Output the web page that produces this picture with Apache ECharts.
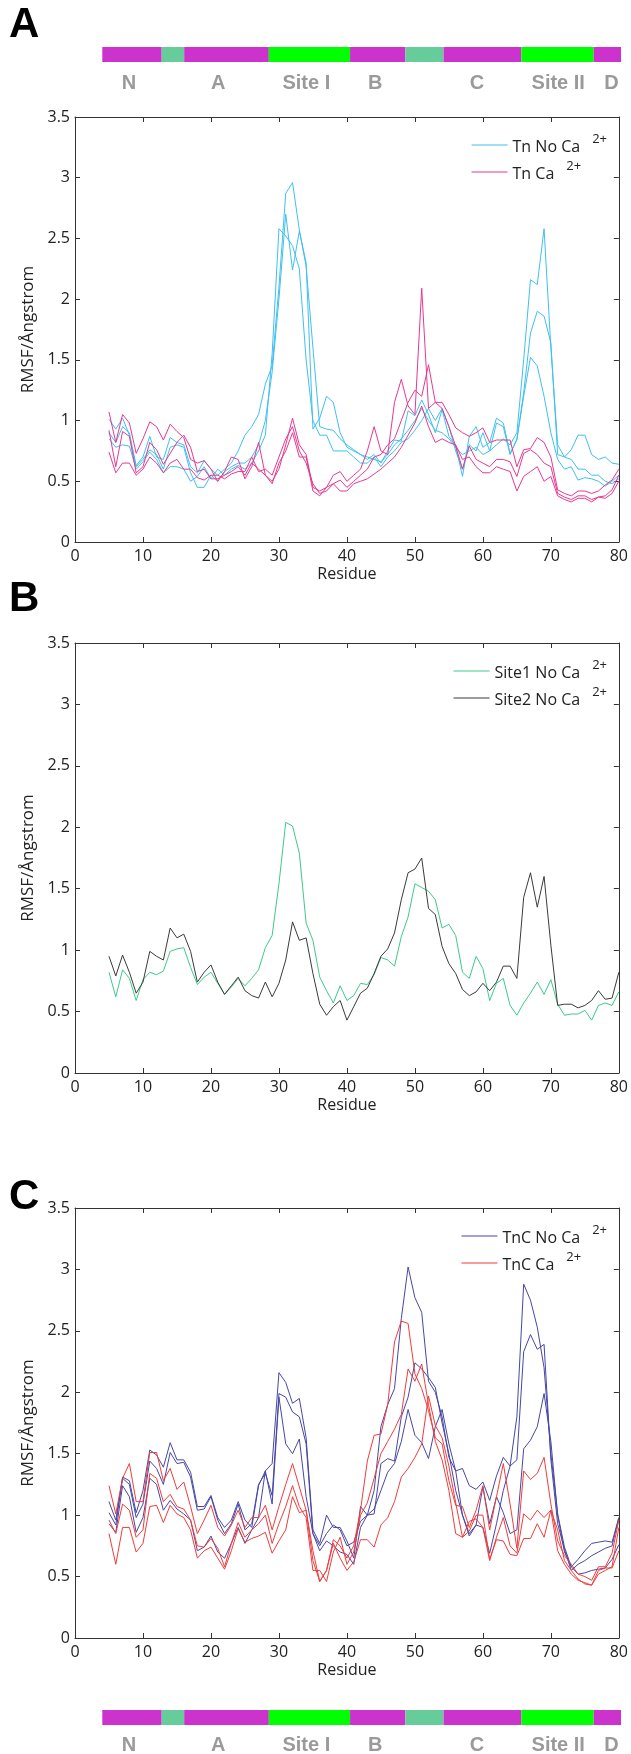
<!DOCTYPE html>
<html><head><meta charset="utf-8">
<script src="https://cdn.jsdelivr.net/npm/echarts@6/dist/echarts.min.js"></script>
<style>html,body{margin:0;padding:0;background:#fff}#c{width:631px;height:1754px}</style>
</head><body><div id="c"></div>
<script>
// ---------- DATA ----------
const residues = [5,6,7,8,9,10,11,12,13,14,15,16,17,18,19,20,21,22,23,24,25,26,27,28,29,30,31,32,33,34,35,36,37,38,39,40,41,42,43,44,45,46,47,48,49,50,51,52,53,54,55,56,57,58,59,60,61,62,63,64,65,66,67,68,69,70,71,72,73,74,75,76,77,78,79,80];

// Panel A: Tn No Ca2+ (3 runs)
const tnNoCa1 = [1.01,0.93,1.02,0.88,0.63,0.70,0.87,0.70,0.68,0.86,
 0.82,0.80,0.62,0.57,0.67,0.60,0.55,0.60,0.65,0.75,
 0.88,0.95,1.05,1.30,1.45,2.10,2.87,2.96,2.57,2.27,
 1.60,0.95,0.93,0.92,0.85,0.80,0.76,0.72,0.70,0.68,
 0.66,0.72,0.80,0.85,0.92,1.00,1.10,1.00,0.92,0.90,
 0.85,0.78,0.72,0.75,0.78,0.72,0.75,0.80,0.85,0.80,
 0.90,1.50,2.16,2.12,2.58,1.60,0.80,0.70,0.68,0.60,
 0.60,0.55,0.55,0.50,0.48,0.52];
const tnNoCa2 = [0.90,0.82,0.95,0.90,0.62,0.68,0.76,0.72,0.60,0.78,
 0.80,0.78,0.57,0.45,0.45,0.55,0.50,0.58,0.62,0.65,
 0.65,0.70,0.80,1.00,1.40,2.00,2.70,2.24,2.56,2.30,
 0.93,1.02,1.20,1.15,0.90,0.78,0.75,0.72,0.68,0.72,
 0.65,0.75,0.84,0.83,1.08,1.04,1.17,1.05,0.90,1.09,
 0.87,0.79,0.54,0.87,0.95,0.78,0.82,1.02,0.98,0.73,
 0.84,1.23,1.72,1.90,1.86,1.64,0.72,0.70,0.76,0.88,
 0.88,0.72,0.68,0.70,0.65,0.64];
const tnNoCa3 = [0.85,0.78,0.80,0.79,0.60,0.66,0.74,0.68,0.57,0.62,
 0.62,0.60,0.50,0.54,0.62,0.52,0.60,0.55,0.60,0.63,
 0.60,0.65,0.75,0.88,1.55,2.58,2.52,2.44,2.25,1.50,
 1.00,0.88,0.88,0.75,0.75,0.75,0.70,0.65,0.65,0.70,
 0.62,0.70,0.75,0.82,0.85,0.92,1.00,1.10,1.00,1.10,
 0.95,0.75,0.60,0.80,0.75,0.90,0.75,0.98,0.95,0.72,
 0.85,1.20,1.52,1.45,1.20,0.90,0.68,0.60,0.62,0.51,
 0.53,0.52,0.50,0.46,0.50,0.55];
// Panel A: Tn Ca2+ (3 runs)
const tnCa1 = [1.07,0.82,1.05,0.98,0.73,0.85,0.99,0.95,0.84,0.97,
 0.91,0.86,0.68,0.65,0.67,0.60,0.50,0.58,0.70,0.68,
 0.52,0.62,0.82,0.55,0.50,0.60,0.80,1.02,0.80,0.72,
 0.45,0.42,0.45,0.55,0.58,0.50,0.55,0.60,0.75,0.95,
 0.75,0.72,1.15,1.34,1.12,1.05,2.09,1.10,1.15,1.15,
 1.05,0.94,0.90,0.87,0.90,0.94,0.82,0.84,0.84,0.84,
 0.62,0.76,0.77,0.86,0.82,0.70,0.43,0.40,0.38,0.42,
 0.42,0.40,0.42,0.47,0.51,0.60];
const tnCa2 = [0.92,0.62,0.91,0.87,0.57,0.62,0.82,0.76,0.64,0.73,
 0.82,0.88,0.78,0.58,0.60,0.52,0.52,0.55,0.58,0.62,
 0.55,0.65,0.60,0.55,0.48,0.65,0.75,0.90,0.70,0.70,
 0.42,0.38,0.45,0.48,0.51,0.45,0.50,0.55,0.60,0.70,
 0.72,0.80,0.85,1.00,1.15,1.25,1.20,1.46,1.15,1.10,
 0.95,0.79,0.60,0.79,0.68,0.65,0.62,0.68,0.68,0.66,
 0.54,0.73,0.76,0.72,0.65,0.62,0.40,0.37,0.35,0.38,
 0.38,0.35,0.37,0.38,0.43,0.55];
const tnCa3 = [0.74,0.57,0.65,0.65,0.55,0.60,0.70,0.65,0.57,0.65,
 0.68,0.60,0.60,0.53,0.51,0.55,0.55,0.52,0.56,0.58,
 0.58,0.70,0.58,0.60,0.55,0.70,0.85,0.95,0.75,0.65,
 0.48,0.40,0.42,0.48,0.42,0.42,0.48,0.50,0.52,0.56,
 0.60,0.65,0.70,0.78,0.88,0.98,1.12,0.95,0.82,0.85,
 0.82,0.80,0.68,0.70,0.62,0.57,0.57,0.62,0.60,0.58,
 0.42,0.54,0.58,0.62,0.50,0.54,0.38,0.35,0.33,0.36,
 0.36,0.33,0.37,0.36,0.40,0.50];

// Panel B
const site1NoCa = [0.82,0.62,0.84,0.77,0.59,0.76,0.82,0.80,0.83,0.99,
 1.01,1.02,0.86,0.72,0.78,0.82,0.73,0.64,0.70,0.77,
 0.71,0.77,0.84,1.02,1.12,1.54,2.04,2.01,1.79,1.22,
 1.08,0.78,0.67,0.57,0.71,0.59,0.63,0.73,0.72,0.80,
 0.94,0.92,0.87,1.11,1.27,1.54,1.51,1.48,1.41,1.18,
 1.21,1.12,0.82,0.77,0.95,0.85,0.59,0.73,0.77,0.55,
 0.47,0.57,0.65,0.74,0.64,0.76,0.56,0.47,0.48,0.48,
 0.51,0.43,0.55,0.57,0.55,0.66];
const site2NoCa = [0.95,0.79,0.96,0.82,0.65,0.74,0.99,0.95,0.92,1.18,
 1.10,1.13,0.99,0.74,0.82,0.88,0.74,0.64,0.71,0.78,
 0.67,0.63,0.61,0.74,0.62,0.73,0.92,1.23,1.08,1.10,
 0.81,0.56,0.47,0.54,0.59,0.43,0.54,0.65,0.69,0.81,
 0.95,1.01,1.14,1.41,1.63,1.66,1.75,1.34,1.29,1.03,
 0.89,0.81,0.68,0.63,0.66,0.73,0.67,0.74,0.87,0.87,
 0.77,1.43,1.63,1.35,1.60,1.04,0.55,0.56,0.56,0.53,
 0.55,0.59,0.67,0.60,0.61,0.82];

// Panel C: TnC No Ca2+ (3 runs)
const tncNoCa1 = [1.11,0.96,1.31,1.28,1.02,1.20,1.53,1.49,1.39,1.59,
 1.45,1.45,1.35,1.07,1.07,1.16,0.98,0.90,0.96,1.11,
 0.96,0.90,1.24,1.36,1.42,2.16,2.08,1.91,1.95,1.63,
 0.88,0.77,1.00,0.90,0.90,0.79,0.65,1.07,1.00,1.20,
 1.72,1.90,2.03,2.60,3.02,2.77,2.65,2.09,2.00,1.80,
 1.47,1.36,1.38,1.24,1.21,1.27,1.12,1.32,1.47,1.40,
 1.80,2.88,2.75,2.53,2.20,1.50,1.01,0.74,0.58,0.64,
 0.71,0.77,0.78,0.79,0.78,0.98];
const tncNoCa2 = [1.02,0.92,1.30,1.25,0.98,1.09,1.44,1.38,1.25,1.51,
 1.42,1.43,1.31,1.04,1.05,1.15,0.96,0.85,0.93,1.09,
 0.88,0.93,1.25,1.34,1.16,1.99,1.96,1.84,1.80,1.58,
 0.85,0.75,0.85,0.92,0.88,0.75,0.78,0.95,1.00,1.01,
 1.42,1.46,1.44,1.80,1.96,2.24,2.19,2.12,2.04,1.75,
 1.50,1.20,1.00,0.85,0.92,0.90,0.69,0.93,1.20,1.40,
 1.45,2.33,2.47,2.35,2.39,1.45,0.93,0.72,0.55,0.60,
 0.63,0.67,0.70,0.73,0.75,0.98];
const tncNoCa3 = [0.93,0.86,1.24,1.15,0.86,0.98,1.30,1.25,1.04,1.12,
 1.05,1.01,0.96,0.71,0.74,0.83,0.70,0.65,0.77,0.90,
 0.77,0.88,0.98,1.36,1.09,1.96,1.58,1.50,1.62,1.15,
 0.85,0.71,0.79,0.75,0.70,0.68,0.60,0.90,1.00,1.05,
 1.20,1.35,1.42,1.60,1.86,1.65,1.59,1.46,1.72,1.86,
 1.58,1.36,1.00,0.83,0.92,1.23,0.93,1.15,1.02,0.85,
 0.88,1.54,1.61,1.72,1.99,1.60,1.00,0.70,0.58,0.52,
 0.53,0.55,0.56,0.57,0.64,0.76];
// Panel C: TnC Ca2+ (3 runs)
const tncCa1 = [1.24,1.01,1.30,1.42,1.11,1.11,1.51,1.51,1.28,1.38,
 1.21,1.27,1.07,0.85,0.96,1.08,0.90,0.83,0.92,1.04,
 0.90,0.98,0.98,1.08,0.88,1.07,1.25,1.42,1.23,1.04,
 0.63,0.46,0.55,0.80,0.75,0.65,0.75,1.04,1.44,1.65,
 1.66,1.90,2.41,2.58,2.56,2.15,2.03,1.85,1.63,1.58,
 1.28,1.08,1.07,0.90,1.04,1.24,0.88,1.15,1.42,1.09,
 0.73,1.36,1.29,1.34,1.47,1.09,0.79,0.67,0.60,0.52,
 0.50,0.47,0.58,0.58,0.69,0.96];
const tncCa2 = [0.96,0.85,1.09,1.04,0.82,0.88,1.34,1.30,1.11,1.17,
 1.07,1.05,0.96,0.75,0.74,0.81,0.73,0.58,0.77,0.94,
 0.82,0.88,0.93,1.00,0.77,0.93,1.07,1.24,1.07,0.98,
 0.55,0.55,0.46,0.70,0.82,0.60,0.70,1.00,1.10,1.30,
 1.50,1.60,1.70,1.82,2.19,2.09,2.23,1.90,1.60,1.45,
 1.20,0.85,0.82,0.95,0.97,0.90,0.63,0.82,0.98,0.75,
 0.69,1.01,0.96,1.04,0.98,1.04,0.88,0.63,0.55,0.48,
 0.44,0.43,0.52,0.55,0.58,0.90];
const tncCa3 = [0.85,0.60,0.90,0.90,0.70,0.77,1.07,1.08,0.94,1.08,
 1.01,0.98,0.88,0.65,0.71,0.74,0.65,0.56,0.71,0.89,
 0.78,0.81,0.83,0.86,0.69,0.79,0.88,1.15,1.02,1.04,
 0.71,0.46,0.55,0.77,0.65,0.55,0.62,0.80,0.80,0.74,
 0.92,0.98,1.11,1.31,1.38,1.47,1.58,1.97,1.73,1.63,
 1.40,1.10,0.82,0.87,1.00,1.00,0.64,0.80,0.79,0.68,
 0.67,0.81,0.81,0.93,0.82,1.04,0.71,0.60,0.52,0.47,
 0.45,0.43,0.55,0.57,0.57,0.71];

// Domain map (residue start, end, kind)
const domainStart = [4, 12.7, 16, 28.4, 40.3, 48.4, 54, 65.4, 76];
const domainEnd   = [12.7, 16, 28.4, 40.3, 48.4, 54, 65.4, 76, 80];
const domainKind  = [0, 1, 0, 2, 0, 1, 0, 2, 0];
const domainLabels = ['N', 'A', 'Site I', 'B', 'C', 'Site II', 'D'];
const domainLabelPos = [7.9, 21, 33.9, 44, 58.9, 70.8, 78.6];

const xTicks = [0, 80, 10];   // min, max, step
const yTicks = [0, 3.5, 0.5];

// ---------- STYLE ----------
const domainColors = ['#cc33cc', '#66cc99', '#00ff00'];
const FONT = '"Open Sans", "Noto Sans", sans-serif';
const AX = '#333';

const chart = echarts.init(document.getElementById('c'), null, {renderer: 'canvas'});

const grids = [
  {left: 75, top: 117, width: 546, height: 425},
  {left: 75, top: 643, width: 546, height: 430},
  {left: 75, top: 1208, width: 546, height: 430},
  {left: 75, top: 47, width: 546, height: 15},
  {left: 75, top: 1710, width: 546, height: 15}
];

function mainX(gi, pos) {
  const bottom = pos === 'bottom';
  return {
    type: 'value', gridIndex: gi, position: pos, min: xTicks[0], max: xTicks[1], interval: xTicks[2],
    axisLine: {show: true, onZero: false, lineStyle: {color: AX, width: 1}},
    axisTick: {show: true, inside: true, length: 5, lineStyle: {color: AX}},
    splitLine: {show: false},
    axisLabel: {show: bottom, margin: 6, fontSize: 16, color: '#222', fontFamily: FONT},
    name: bottom ? 'Residue' : '', nameLocation: 'middle', nameGap: 24,
    nameTextStyle: {fontSize: 16, color: '#222', fontFamily: FONT}
  };
}
function mainY(gi, pos) {
  const left = pos === 'left';
  return {
    type: 'value', gridIndex: gi, position: pos, min: yTicks[0], max: yTicks[1], interval: yTicks[2],
    axisLine: {show: true, onZero: false, lineStyle: {color: AX, width: 1}},
    axisTick: {show: true, inside: true, length: 5, lineStyle: {color: AX}},
    splitLine: {show: false},
    axisLabel: {show: left, margin: 5, fontSize: 16, color: '#222', fontFamily: FONT},
    name: left ? 'RMSF/Ångstrom' : '', nameLocation: 'middle', nameGap: 36,
    nameTextStyle: {fontSize: 17, color: '#222', fontFamily: FONT}
  };
}
const xAxes = [mainX(0,'bottom'), mainX(1,'bottom'), mainX(2,'bottom'),
  mainX(0,'top'), mainX(1,'top'), mainX(2,'top'),
  {type: 'value', gridIndex: 3, min: 0, max: 80, show: false},
  {type: 'value', gridIndex: 4, min: 0, max: 80, show: false}];
const yAxes = [mainY(0,'left'), mainY(1,'left'), mainY(2,'left'),
  mainY(0,'right'), mainY(1,'right'), mainY(2,'right'),
  {type: 'value', gridIndex: 3, min: 0, max: 1, show: false},
  {type: 'value', gridIndex: 4, min: 0, max: 1, show: false}];

function line(name, vals, color, gi) {
  return {
    type: 'line', name: name, xAxisIndex: gi, yAxisIndex: gi,
    data: residues.map((r, i) => [r, vals[i]]),
    symbol: 'none', showSymbol: false, color: color,
    lineStyle: {width: 1, color: color}, animation: false
  };
}
const cBlueA = '#3fc0f0', cPinkA = '#e8388f';
const cGreenB = '#3ec98b', cGrayB = '#3a3a3a';
const cBlueC = '#4747a6', cRedC = '#f03c3c';

const series = [
  line('Tn No Ca2+', tnNoCa1, cBlueA, 0), line('Tn No Ca2+', tnNoCa2, cBlueA, 0), line('Tn No Ca2+', tnNoCa3, cBlueA, 0),
  line('Tn Ca2+', tnCa1, cPinkA, 0), line('Tn Ca2+', tnCa2, cPinkA, 0), line('Tn Ca2+', tnCa3, cPinkA, 0),
  line('Site1 No Ca2+', site1NoCa, cGreenB, 1), line('Site2 No Ca2+', site2NoCa, cGrayB, 1),
  line('TnC No Ca2+', tncNoCa1, cBlueC, 2), line('TnC No Ca2+', tncNoCa2, cBlueC, 2), line('TnC No Ca2+', tncNoCa3, cBlueC, 2),
  line('TnC Ca2+', tncCa1, cRedC, 2), line('TnC Ca2+', tncCa2, cRedC, 2), line('TnC Ca2+', tncCa3, cRedC, 2)
];

function domainBar(gi) {
  return {
    type: 'custom', xAxisIndex: gi, yAxisIndex: gi, animation: false, silent: true,
    data: domainStart.map((s, i) => [s, domainEnd[i], domainKind[i]]),
    renderItem: (params, api) => {
      const a = api.coord([api.value(0), 0]);
      const b = api.coord([api.value(1), 1]);
      return {type: 'rect', shape: {x: a[0], y: b[1], width: b[0] - a[0], height: a[1] - b[1]},
        style: {fill: domainColors[api.value(2)]}};
    }
  };
}
function domainText(gi, off) {
  return {
    type: 'custom', xAxisIndex: gi, yAxisIndex: gi, animation: false, silent: true,
    data: domainLabelPos.map((p, i) => [p, i]),
    renderItem: (params, api) => {
      const a = api.coord([api.value(0), 0]);
      return {type: 'text', x: a[0], y: a[1] + off,
        style: {text: domainLabels[api.value(1)], fill: '#9a9a9a', font: 'bold 20px "Liberation Sans", Arial, sans-serif',
          align: 'center', verticalAlign: 'middle'}};
    }
  };
}
series.push(domainBar(6), domainText(6, 21), domainBar(7), domainText(7, 20));

function legend(names, top) {
  return {
    data: names, orient: 'vertical', right: 19, top: top, itemWidth: 36, itemHeight: 14, itemGap: 5,
    selectedMode: false, icon: 'path://M0,0 L36,0 L36,1 L0,1 Z',
    formatter: n => '{m|' + n.replace('2+', '') + '}{s|2+}',
    textStyle: {
      rich: {
        m: {fontSize: 16, color: '#222', fontFamily: FONT, lineHeight: 20, verticalAlign: 'bottom'},
        s: {fontSize: 13, color: '#222', fontFamily: FONT, lineHeight: 13, padding: [0, 0, 9, 12], verticalAlign: 'bottom'}
      }
    }
  };
}

const option = {
  backgroundColor: '#fff',
  animation: false,
  grid: grids,
  xAxis: xAxes,
  yAxis: yAxes,
  legend: [legend(['Tn No Ca2+', 'Tn Ca2+'], 128), legend(['Site1 No Ca2+', 'Site2 No Ca2+'], 654), legend(['TnC No Ca2+', 'TnC Ca2+'], 1219)],
  graphic: [
    {type: 'text', x: 9, y: 4, style: {text: 'A', font: 'bold 42px "Liberation Sans", Arial, sans-serif', fill: '#000'}},
    {type: 'text', x: 9, y: 578, style: {text: 'B', font: 'bold 42px "Liberation Sans", Arial, sans-serif', fill: '#000'}},
    {type: 'text', x: 9, y: 1176, style: {text: 'C', font: 'bold 42px "Liberation Sans", Arial, sans-serif', fill: '#000'}}
  ],
  series: series
};
chart.setOption(option);
</script>
</body></html>
